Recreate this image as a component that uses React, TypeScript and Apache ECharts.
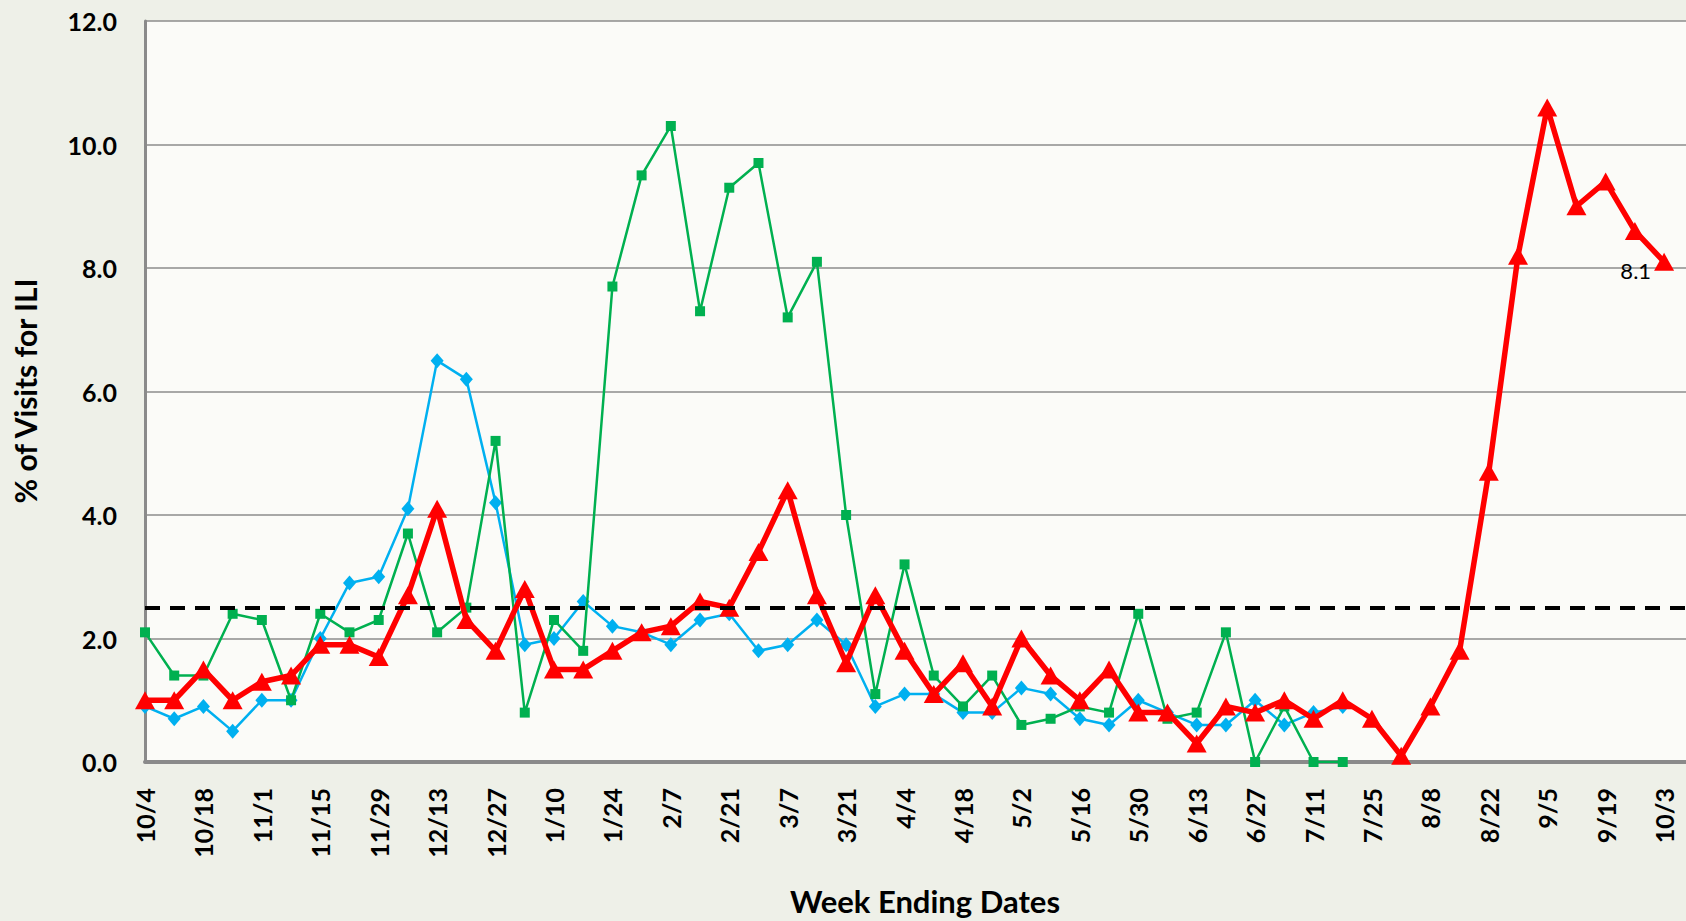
import React, { useEffect, useRef } from "react";
import * as echarts from "echarts";

const weeks = [
  "10/4", "10/11", "10/18", "10/25", "11/1", "11/8", "11/15", "11/22", "11/29", "12/6",
  "12/13", "12/20", "12/27", "1/3", "1/10", "1/17", "1/24", "1/31", "2/7", "2/14",
  "2/21", "2/28", "3/7", "3/14", "3/21", "3/28", "4/4", "4/11", "4/18", "4/25",
  "5/2", "5/9", "5/16", "5/23", "5/30", "6/6", "6/13", "6/20", "6/27", "7/4",
  "7/11", "7/18", "7/25", "8/1", "8/8", "8/15", "8/22", "8/29", "9/5", "9/12",
  "9/19", "9/26", "10/3",
];

const currentSeason = [
  1.0, 1.0, 1.5, 1.0, 1.3, 1.4, 1.9, 1.9, 1.7, 2.7,
  4.1, 2.3, 1.8, 2.8, 1.5, 1.5, 1.8, 2.1, 2.2, 2.6,
  2.5, 3.4, 4.4, 2.7, 1.6, 2.7, 1.8, 1.1, 1.6, 0.9,
  2.0, 1.4, 1.0, 1.5, 0.8, 0.8, 0.3, 0.9, 0.8, 1.0,
  0.7, 1.0, 0.7, 0.1, 0.9, 1.8, 4.7, 8.2, 10.6, 9.0,
  9.4, 8.6, 8.1,
];

const blueSeason = [
  0.9, 0.7, 0.9, 0.5, 1.0, 1.0, 2.0, 2.9, 3.0, 4.1,
  6.5, 6.2, 4.2, 1.9, 2.0, 2.6, 2.2, 2.1, 1.9, 2.3,
  2.4, 1.8, 1.9, 2.3, 1.9, 0.9, 1.1, 1.1, 0.8, 0.8,
  1.2, 1.1, 0.7, 0.6, 1.0, 0.8, 0.6, 0.6, 1.0, 0.6,
  0.8, 0.9,
];

const greenSeason = [
  2.1, 1.4, 1.4, 2.4, 2.3, 1.0, 2.4, 2.1, 2.3, 3.7,
  2.1, 2.5, 5.2, 0.8, 2.3, 1.8, 7.7, 9.5, 10.3, 7.3,
  9.3, 9.7, 7.2, 8.1, 4.0, 1.1, 3.2, 1.4, 0.9, 1.4,
  0.6, 0.7, 0.9, 0.8, 2.4, 0.7, 0.8, 2.1, 0.0, 0.9,
  0.0, 0.0,
];

const baseline = 2.5;
const yTicks = [0, 2, 4, 6, 8, 10, 12];

const toPairs = (arr: number[]) => arr.map((v, i) => [i, v]);

export default function App() {
  const ref = useRef<HTMLDivElement>(null);

  useEffect(() => {
    if (!ref.current) return;
    const chart = echarts.init(ref.current, null, { renderer: "svg" });
    const lastIdx = currentSeason.length - 1;
    const font = "Lato, Carlito, 'Open Sans', sans-serif";

    chart.setOption({
      animation: false,
      backgroundColor: "#eef0e8",
      grid: {
        left: 145,
        right: 0,
        top: 21,
        bottom: 159,
        show: true,
        backgroundColor: "#fbfbf8",
        borderWidth: 0,
      },
      xAxis: {
        type: "value",
        min: 0,
        max: 52.75,
        interval: 2,
        axisLine: { show: true, lineStyle: { color: "#8a8a8a", width: 4 } },
        axisTick: { show: false },
        splitLine: { show: false },
        axisLabel: {
          rotate: 90,
          margin: 26,
          showMaxLabel: false,
          color: "#000",
          fontFamily: font,
          fontWeight: "bold",
          fontSize: 25,
          formatter: (v: number) => (Number.isInteger(v) && weeks[v] ? weeks[v] : ""),
        },
      },
      yAxis: {
        type: "value",
        min: yTicks[0],
        max: yTicks[yTicks.length - 1],
        interval: 2,
        axisLine: { show: true, lineStyle: { color: "#8a8a8a", width: 3 } },
        axisTick: { show: false },
        splitLine: { show: true, lineStyle: { color: "#8c8c8c", width: 1.5 } },
        axisLabel: {
          margin: 28,
          color: "#000",
          fontFamily: font,
          fontWeight: "bold",
          fontSize: 25,
          formatter: (v: number) => v.toFixed(1),
        },
      },
      graphic: [
        {
          type: "text",
          x: 25,
          y: 391,
          rotation: Math.PI / 2,
          style: {
            text: "% of Visits for ILI",
            fill: "#000",
            font: `bold 30px ${font}`,
            align: "center",
            verticalAlign: "middle",
          },
        },
        {
          type: "text",
          x: 925,
          y: 901,
          style: {
            text: "Week Ending Dates",
            fill: "#000",
            font: `bold 31px ${font}`,
            align: "center",
            verticalAlign: "middle",
          },
        },
      ],
      series: [
        {
          name: "Blue season",
          type: "line",
          z: 2,
          data: toPairs(blueSeason),
          symbol: "diamond",
          symbolSize: [13, 15],
          lineStyle: { color: "#00b0f0", width: 2.5 },
          itemStyle: { color: "#00b0f0" },
          markLine: {
            silent: true,
            symbol: "none",
            label: { show: false },
            lineStyle: { color: "#000", width: 4, type: [15, 10] },
            data: [{ yAxis: baseline }],
          },
        },
        {
          name: "Green season",
          type: "line",
          z: 3,
          data: toPairs(greenSeason),
          symbol: "rect",
          symbolSize: 10,
          lineStyle: { color: "#00b050", width: 2.5 },
          itemStyle: { color: "#00b050" },
        },
        {
          name: "Current season",
          type: "line",
          z: 4,
          data: toPairs(currentSeason),
          symbol: "triangle",
          symbolSize: [20, 18],
          lineStyle: { color: "#ff0000", width: 5.5 },
          itemStyle: { color: "#ff0000" },
          label: {
            show: true,
            position: "left",
            distance: 3,
            offset: [0, 9],
            color: "#000",
            fontFamily: font,
            fontSize: 22,
            formatter: (p: any) => (p.dataIndex === lastIdx ? String(p.value[1].toFixed(1)) : ""),
          },
        },
      ],
    });

    return () => chart.dispose();
  }, []);

  return (
    <div
      ref={ref}
      style={{ position: "absolute", left: 0, top: 0, width: 1686, height: 921 }}
    />
  );
}
